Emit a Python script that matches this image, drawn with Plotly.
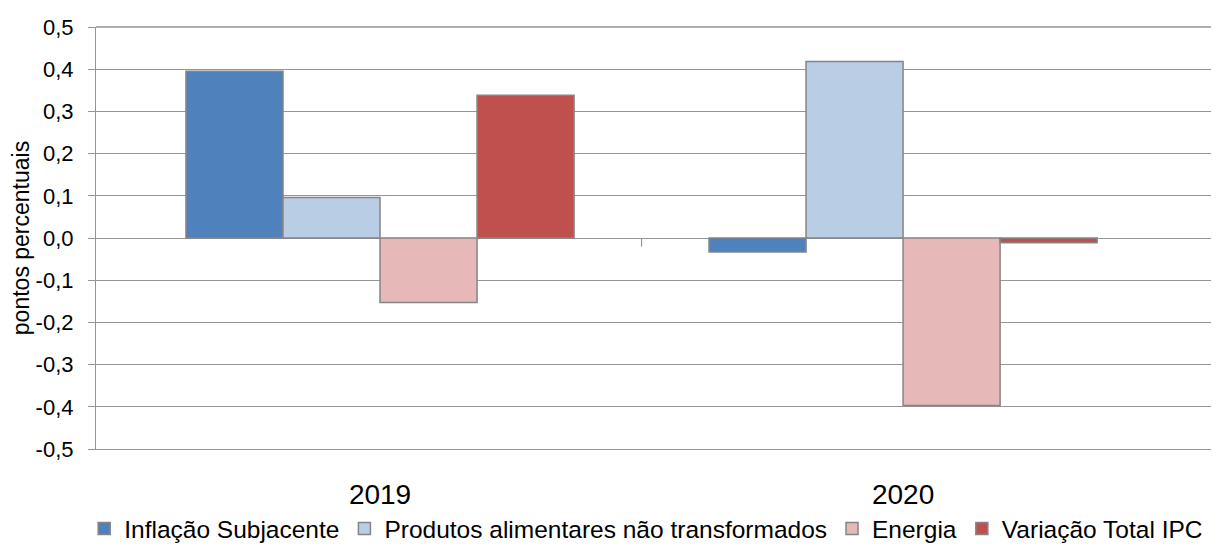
import plotly.graph_objects as go

categories = ["2019", "2020"]
series_names = ["Inflação Subjacente", "Produtos alimentares não transformados", "Energia", "Variação Total IPC"]
inflacao = [0.395, -0.033]
produtos = [0.096, 0.418]
energia = [-0.153, -0.397]
total = [0.338, -0.011]
y_tickvals = [0.5, 0.4, 0.3, 0.2, 0.1, 0.0, -0.1, -0.2, -0.3, -0.4, -0.5]
y_ticktext = ["0,5", "0,4", "0,3", "0,2", "0,1", "0,0", "-0,1", "-0,2", "-0,3", "-0,4", "-0,5"]

colors = ["#4F81BD", "#B9CDE5", "#E6B9B8", "#C0504D"]
values = [inflacao, produtos, energia, total]
xpos = list(range(len(categories)))

fig = go.Figure()
for name, vals, col in zip(series_names, values, colors):
    fig.add_trace(go.Bar(
        x=xpos, y=vals, name=name,
        marker=dict(color=col, line=dict(color="#858585", width=1.5)),
    ))

# small category divider tick on the zero line (Excel style)
mid = (xpos[0] + xpos[1]) / 2
fig.add_shape(type="line", xref="x", yref="y", x0=mid, x1=mid, y0=0, y1=-0.02,
              line=dict(color="#969696", width=1.2))
# top frame line of the plot area (top gridline)
fig.add_shape(type="line", xref="paper", yref="paper", x0=0, x1=1, y0=1, y1=1,
              line=dict(color="#969696", width=1.5), layer="above")

# the page body has an 8px margin, so the figure is sized/offset to compensate
fig.update_layout(
    barmode="group",
    bargap=0.258,
    bargroupgap=0,
    width=1211, height=543,
    margin=dict(l=88, r=0, t=19, b=102),
    plot_bgcolor="white", paper_bgcolor="white",
    font=dict(family="Liberation Sans", color="#000000"),
    showlegend=True,
    legend=dict(orientation="h", xref="container", yref="container",
                x=0.527, xanchor="center", y=-0.058, yanchor="bottom",
                font=dict(family="Liberation Sans", size=24.5),
                itemwidth=30, tracegroupgap=0),
    xaxis=dict(range=[-0.543, 1.604], tickvals=xpos, ticktext=categories,
               showgrid=False, zeroline=False, ticks="",
               showline=True, linecolor="#969696", linewidth=1.2,
               tickfont=dict(size=28), ticklabelstandoff=20, automargin=False),
    yaxis=dict(range=[-0.5, 0.5], tickvals=y_tickvals, ticktext=y_ticktext,
               showgrid=True, gridcolor="#969696", gridwidth=1.2,
               zeroline=False, showline=True, linecolor="#969696", linewidth=1.2,
               ticks="outside", ticklen=7, tickcolor="#969696",
               tickfont=dict(size=22), ticklabelstandoff=10, automargin=False,
               title=dict(text="pontos percentuais", font=dict(size=23), standoff=0)),
)

fig.write_html("out.html")
